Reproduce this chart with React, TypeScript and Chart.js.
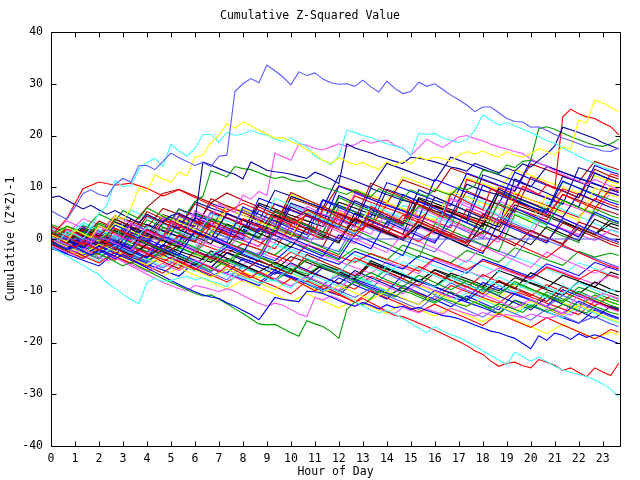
import React, { useEffect, useRef } from "react";
import { Chart, registerables } from "chart.js";

Chart.register(...registerables);

const TITLE = "Cumulative Z-Squared Value";
const X_LABEL = "Hour of Day";
const Y_LABEL = "Cumulative (Z*Z)-1";
const HOUR_TICKS = [0, 1, 2, 3, 4, 5, 6, 7, 8, 9, 10, 11, 12, 13, 14, 15, 16, 17, 18, 19, 20, 21, 22, 23];
const Y_TICKS = [-40, -30, -20, -10, 0, 10, 20, 30, 40];
const X_MIN = 0;
const X_MAX = 23.72;
const Y_MIN = -40;
const Y_MAX = 40;

// sample times (hours): 20-minute grid for traced series, 40-minute grid for the dense band
const FINE_HOURS = Array.from({ length: 72 }, (_, i) => i / 3);
const COARSE_HOURS = [...Array.from({ length: 36 }, (_, i) => (i * 2) / 3), 71 / 3];
const ZERO_HOURS = [0, 23.72];
const ZERO_LINE = [0, 0];

// ---- traced outer series (20-minute samples) ----
const T_LB = [5.5, 4.6, 3.8, 6.2, 8.8, 9.5, 8.6, 8.2, 10.5, 11.7, 11.0, 14.2, 14.2, 13.4, 15.0, 16.6, 15.7, 15.0, 14.2, 14.8, 14.0, 16.0, 16.2, 28.5, 30.0, 31.0, 30.2, 33.6, 32.5, 31.3, 29.8, 32.3, 31.6, 32.1, 30.9, 30.2, 29.9, 30.0, 29.5, 30.7, 29.4, 28.4, 30.5, 29.1, 28.1, 28.5, 30.3, 29.5, 30.0, 28.9, 27.8, 26.9, 25.9, 24.6, 25.5, 25.5, 24.4, 23.3, 22.7, 22.6, 21.6, 21.7, 21.0, 20.2, 19.5, 19.0, 18.4, 17.8, 17.6, 17.0, 16.9, 17.6];
const T_YE = [0.8, 0.2, -0.5, 1.8, 1.0, 0.3, 2.6, 1.9, 4.5, 3.8, 6.0, 9.9, 9.2, 12.4, 11.6, 11.0, 12.9, 12.2, 15.8, 16.2, 18.6, 20.0, 22.3, 21.4, 22.6, 21.9, 21.0, 20.3, 19.5, 19.6, 18.8, 18.2, 17.2, 16.5, 15.2, 14.6, 15.7, 15.0, 14.3, 14.8, 14.0, 13.5, 14.9, 14.2, 15.1, 14.5, 15.9, 15.3, 15.8, 15.6, 15.0, 16.2, 16.9, 16.4, 17.0, 16.3, 15.8, 16.9, 16.2, 15.8, 16.4, 17.5, 16.9, 16.2, 17.8, 17.4, 23.0, 22.4, 26.8, 26.3, 25.5, 24.6];
const T_CY = [0.5, -0.3, 1.5, 0.8, 0.0, 2.2, 5.0, 6.5, 11.3, 10.1, 10.3, 13.5, 14.8, 15.6, 14.0, 18.3, 17.0, 16.0, 17.5, 20.2, 20.2, 18.7, 20.6, 20.0, 20.3, 21.0, 20.4, 20.1, 19.3, 18.8, 19.5, 18.6, 17.8, 16.0, 15.2, 14.4, 16.0, 21.0, 20.6, 20.0, 19.6, 19.0, 18.4, 18.0, 17.5, 16.2, 20.4, 20.2, 20.4, 19.5, 19.1, 18.6, 19.2, 21.0, 24.0, 23.0, 22.0, 22.5, 21.9, 21.2, 20.6, 19.8, 19.0, 18.5, 17.6, 16.8, 16.0, 15.2, 14.6, 13.8, 13.4, 13.0];
const T_NV = [8.0, 8.3, 7.5, 6.6, 5.8, 6.5, 5.6, 4.8, 5.5, 4.7, 3.9, 3.1, 4.8, 4.0, 3.3, 4.5, 5.0, 4.2, 3.5, 14.9, 14.3, 13.6, 13.0, 12.5, 11.6, 14.9, 14.1, 13.3, 13.0, 12.8, 12.5, 12.1, 11.7, 12.9, 12.3, 11.6, 10.7, 18.4, 17.6, 17.1, 16.6, 16.0, 15.5, 15.0, 14.6, 15.8, 15.6, 15.3, 14.9, 14.4, 13.9, 13.6, 13.1, 14.6, 14.0, 13.4, 12.8, 13.7, 13.1, 14.5, 13.9, 15.2, 16.4, 18.0, 21.6, 21.1, 20.6, 20.0, 19.4, 18.6, 18.0, 17.4];
const T_GR = [1.5, 0.7, 2.5, 1.8, 1.0, 3.2, 4.8, 4.1, 3.3, 5.5, 4.7, 3.9, 6.0, 5.2, 4.4, 3.7, 5.8, 5.0, 7.2, 8.3, 13.2, 12.6, 12.0, 14.0, 13.6, 13.4, 12.8, 12.2, 11.7, 12.0, 11.4, 11.1, 11.3, 10.6, 10.0, 9.6, 9.1, 8.6, 9.5, 8.8, 8.2, 9.7, 9.0, 8.4, 7.8, 9.5, 8.8, 8.2, 9.6, 9.0, 8.5, 10.0, 9.5, 10.3, 13.3, 13.0, 12.6, 14.3, 13.8, 15.0, 15.2, 21.3, 21.7, 21.2, 20.5, 19.8, 19.2, 18.6, 18.1, 17.9, 18.4, 19.3];
const T_RD_UP = [-0.8, 1.2, 0.4, -0.4, -1.2, 0.9, 0.1, -0.7, 2.1, 1.3, 0.5, -0.3, 1.8, 1.0, 0.2, 3.5, 2.7, 1.9, 1.1, 0.3, 2.6, 1.8, 1.0, 0.2, 3.9, 3.1, 2.3, 1.5, 0.7, 4.4, 3.6, 2.8, 2.0, 1.2, 5.8, 5.0, 4.2, 3.4, 2.6, 1.8, 6.3, 5.5, 4.7, 3.9, 3.1, 7.4, 6.6, 5.8, 5.0, 4.2, 8.8, 8.0, 7.2, 6.4, 5.6, 9.7, 8.9, 8.1, 7.3, 10.2, 9.4, 8.6, 10.5, 9.7, 23.6, 25.1, 24.2, 23.6, 23.3, 22.4, 21.7, 20.1];
const T_MG_UP = [0.3, -0.5, 1.8, 1.0, 0.2, -0.6, 2.5, 1.7, 0.9, 0.1, 3.0, 2.2, 1.4, 0.6, 4.2, 3.4, 2.6, 1.8, 5.5, 4.7, 3.9, 6.8, 6.0, 5.2, 8.5, 7.7, 9.2, 8.4, 16.6, 15.9, 15.2, 18.4, 18.1, 17.5, 17.2, 17.8, 18.4, 17.9, 18.2, 19.1, 18.5, 18.9, 19.1, 18.1, 17.6, 16.2, 17.7, 19.3, 18.4, 17.7, 18.7, 19.7, 20.0, 19.4, 19.0, 18.3, 17.8, 17.4, 16.9, 16.5, 15.5, 14.7, 14.0, 13.2, 12.5, 11.8, 11.2, 10.5, 11.5, 10.8, 10.2, 9.6];
const T_CY_LOW = [-1.5, -2.4, -3.3, -4.2, -5.1, -6.0, -6.9, -8.5, -9.5, -10.7, -11.7, -12.5, -8.4, -7.6, -8.2, -8.0, -7.6, -7.2, -7.9, -7.5, -8.1, -8.6, -9.2, -7.0, -7.6, -7.8, -8.5, -8.2, -7.9, -8.9, -9.5, -7.8, -8.5, -9.3, -10.0, -9.5, -10.3, -11.0, -12.0, -13.0, -13.7, -14.3, -13.8, -14.5, -15.3, -16.3, -17.2, -18.1, -16.9, -17.8, -18.5, -19.0, -19.8, -20.7, -21.6, -22.5, -23.4, -24.3, -21.9, -22.7, -23.6, -22.8, -23.7, -24.6, -25.3, -25.8, -26.2, -26.6, -27.2, -28.0, -29.0, -30.5];
const T_RD_LOW = [0.8, 0.0, -0.8, -1.6, -0.5, -1.3, -2.2, -1.0, -1.8, -2.6, -3.4, -2.0, -2.8, -3.6, -4.4, -3.5, -4.3, -5.1, -5.9, -4.8, -5.6, -6.4, -5.2, -6.0, -6.8, -7.5, -6.3, -7.1, -7.9, -8.7, -7.6, -8.4, -9.2, -10.0, -9.0, -9.8, -10.6, -11.4, -12.2, -11.5, -12.3, -13.1, -14.0, -14.8, -15.0, -15.6, -16.3, -16.9, -17.6, -18.3, -19.1, -19.8, -20.6, -21.6, -22.3, -23.6, -24.6, -24.0, -23.8, -24.5, -24.9, -23.3, -23.8, -24.4, -25.4, -24.9, -25.8, -26.6, -24.9, -25.7, -26.4, -24.0];
const T_BL_LOW = [-0.3, -1.2, -2.0, -1.5, -2.3, -3.1, -2.2, -3.0, -3.8, -3.0, -3.8, -4.7, -5.6, -6.4, -7.2, -8.0, -8.8, -9.5, -10.2, -10.8, -11.2, -11.5, -12.3, -13.0, -13.8, -14.6, -15.6, -13.5, -11.3, -11.7, -11.9, -12.1, -10.1, -10.2, -10.5, -11.2, -11.9, -12.5, -13.0, -12.3, -12.8, -13.5, -12.7, -13.3, -13.0, -13.6, -13.2, -13.8, -14.3, -14.8, -15.0, -15.4, -16.0, -16.6, -17.2, -17.8, -18.1, -18.7, -19.2, -20.2, -21.2, -18.7, -19.6, -18.2, -18.6, -19.4, -18.3, -19.0, -18.5, -19.0, -19.6, -20.2];
const T_GR_LOW = [-0.5, -1.3, -2.1, -1.5, -2.3, -3.1, -2.8, -3.6, -4.4, -5.2, -4.5, -5.3, -6.1, -6.9, -7.7, -8.4, -9.1, -9.8, -10.5, -11.0, -10.8, -11.6, -12.5, -13.5, -14.4, -15.4, -16.4, -16.6, -16.5, -17.3, -18.1, -18.8, -15.8, -16.4, -16.9, -17.9, -19.2, -13.6, -12.2, -12.8, -11.5, -10.0, -10.6, -11.2, -10.0, -10.5, -11.2, -11.8, -12.4, -11.5, -12.0, -12.6, -13.0, -12.2, -12.8, -13.4, -12.5, -13.0, -13.6, -14.2, -12.8, -13.4, -14.0, -13.5, -12.6, -13.2, -13.8, -14.3, -13.0, -13.6, -14.2, -14.6];
const T_MG_LOW = [-0.2, -1.0, -1.8, -2.6, -1.9, -2.7, -3.5, -4.3, -3.6, -4.4, -5.2, -6.0, -6.8, -7.6, -8.4, -9.0, -9.6, -10.0, -9.0, -9.3, -9.7, -10.2, -9.6, -10.1, -10.9, -11.7, -12.4, -13.0, -12.4, -12.8, -13.6, -14.5, -15.0, -11.3, -11.8, -11.0, -11.6, -12.3, -13.0, -12.2, -12.9, -13.5, -14.0, -14.4, -13.2, -13.8, -14.3, -13.5, -14.0, -14.5, -13.4, -13.9, -14.4, -14.9, -14.2, -14.7, -15.0, -14.6, -14.9, -15.2, -14.5, -14.9, -15.3, -15.0, -14.2, -14.7, -13.8, -10.8, -11.4, -10.5, -11.0, -11.8];

// ---- dense band series (40-minute samples, last at 23:40) ----
const M01 = [0.5, 4.0, 9.7, 11.0, 10.4, 10.8, 9.8, 8.3, 9.5, 8.0, 6.6, 5.2, 6.9, 5.6, 4.2, 2.8, 4.6, 3.2, 1.8, 0.5, 3.7, 2.2, 0.9, -0.5, 1.8, 0.4, -1.0, -2.4, 0.6, -0.8, -2.2, -3.6, -1.2, -2.6, -4.0, -5.3, -5.8];
const M02 = [1.0, -0.3, 1.8, 0.4, 3.9, 2.5, 6.1, 8.8, 9.6, 8.3, 7.0, 8.9, 7.5, 6.2, 4.8, 3.5, 5.6, 4.2, 2.8, 1.5, 2.9, 1.6, 0.2, 3.4, 2.0, 0.7, -0.7, 1.5, 0.1, -1.3, 1.7, 0.3, -1.1, 2.2, 0.8, -0.5, -1.0];
const M03 = [-0.5, -1.8, -0.6, -2.0, -3.3, 0.8, -0.5, -1.9, -3.2, 1.5, 0.1, -1.2, -2.6, 2.1, 0.7, -0.6, -2.0, -3.3, 0.8, -0.6, -1.9, 3.4, 2.0, 0.6, -0.8, 4.5, 3.1, 1.7, 0.3, 6.0, 4.6, 3.2, 1.8, 0.4, 5.2, 3.8, 3.2];
const M04 = [0.8, 2.5, 1.2, -0.2, 1.9, 0.5, -0.9, -2.2, -0.3, -1.7, -3.0, -4.4, -2.1, -3.5, -4.9, -6.2, -4.0, -5.4, -6.8, -8.1, -6.5, -7.9, -9.2, -7.0, -8.4, -9.8, -8.1, -9.5, -10.9, -8.2, -9.6, -11.0, -12.3, -10.1, -11.5, -12.8, -13.3];
const M05 = [0.3, -1.0, -2.3, 0.5, -0.8, -2.2, 1.6, 0.3, -1.1, -2.4, 0.4, -0.9, -2.3, -3.6, 1.2, -0.1, -1.5, 2.8, 1.4, 0.1, -1.3, -2.6, 0.9, -0.5, -1.8, -3.2, -4.5, -1.4, -2.8, -4.1, -5.5, -2.5, -3.9, -5.2, -6.6, -5.1, -5.6];
const M06 = [2.0, 0.7, 3.2, 1.8, 0.5, -0.9, 2.4, 1.0, -0.3, -1.7, -3.0, -1.2, -2.6, -3.9, -1.0, -2.4, -3.7, -5.1, -6.4, -4.0, -5.4, -6.7, -4.4, -5.8, -7.1, -8.5, -6.2, -7.6, -8.9, -10.3, -7.9, -9.3, -10.6, -8.4, -9.8, -11.1, -11.6];
const M07 = [-0.2, -1.5, -2.9, -1.0, -2.3, -3.7, -5.0, -3.3, -4.7, -6.0, -7.4, -5.8, -7.1, -8.5, -9.8, -7.7, -9.1, -10.4, -9.0, -10.4, -11.7, -10.0, -11.4, -12.7, -10.3, -11.7, -13.0, -11.5, -12.9, -14.2, -12.0, -13.4, -14.7, -12.8, -14.1, -15.5, -16.0];
const M08 = [0.5, -0.8, 2.0, 0.6, 3.8, 2.4, 1.1, -0.3, -1.6, 1.3, -0.1, -1.4, 2.5, 1.1, -0.2, -1.6, 2.2, 0.8, -0.5, 3.9, 2.5, 1.2, -0.2, 2.7, 1.3, 0.0, -1.4, 3.0, 1.6, 0.3, -1.1, 2.4, 1.0, -0.3, 3.8, 2.4, 1.9];
const M09 = [-1.0, -2.3, -3.7, -2.0, -3.4, -4.7, -3.0, -4.4, -5.7, -2.2, -3.6, -4.9, -6.3, -4.1, -5.5, -6.8, -3.0, -4.4, -5.7, -7.1, -5.0, -6.4, -7.7, -9.1, -6.5, -7.9, -9.2, -10.6, -8.0, -9.4, -10.7, -12.1, -9.2, -10.6, -11.9, -13.3, -13.8];
const M10 = [1.5, 0.2, -1.1, 1.7, 0.3, 3.1, 1.7, 0.4, 4.4, 3.0, 1.7, 0.3, 5.6, 4.2, 2.9, 1.5, 0.2, 3.6, 2.2, 0.9, 5.1, 3.7, 2.4, 1.0, -0.4, 2.8, 1.4, 0.1, 4.3, 2.9, 1.6, 0.2, -1.1, 2.6, 1.2, -0.1, -0.6];
const M11 = [-0.8, -2.1, 0.5, -0.8, -2.2, 1.9, 0.5, 4.2, 2.8, 1.5, 0.1, 5.0, 3.6, 2.3, 0.9, 6.2, 4.8, 3.5, 2.1, 7.4, 6.0, 4.7, 3.3, 2.0, 8.1, 6.7, 5.4, 4.0, 9.6, 8.2, 6.9, 5.5, 4.2, 8.8, 7.4, 6.1, 5.6];
const M12 = [0.2, 1.8, 0.4, -0.9, 2.0, 0.6, -0.7, -2.1, 0.8, -0.6, 3.5, 2.1, 0.8, -0.6, -1.9, 2.6, 1.2, -0.1, 5.1, 3.7, 2.4, 1.0, 4.6, 3.2, 1.9, 0.5, 5.8, 4.4, 3.1, 7.2, 5.8, 4.5, 8.6, 7.2, 5.9, 9.8, 9.3];
const M13 = [-0.3, 1.3, 0.0, 2.8, 1.4, 0.1, 3.7, 2.3, 1.0, -0.4, 4.1, 2.7, 1.4, 0.0, 5.3, 3.9, 2.6, 1.2, 8.0, 6.6, 5.3, 3.9, 2.6, 6.4, 5.0, 3.7, 2.3, 1.0, 6.9, 5.5, 4.2, 2.8, 7.5, 6.1, 4.8, 3.4, 2.9];
const M14 = [1.2, -0.1, -1.5, -2.8, -1.0, -2.4, -3.7, 0.5, -0.9, -2.2, -3.6, -1.5, -2.9, -4.2, 1.6, 0.2, -1.1, -2.5, -3.8, 0.9, -0.5, -1.8, -3.2, 2.6, 1.2, -0.1, -1.5, -2.8, 3.3, 1.9, 0.6, -0.8, 4.0, 2.6, 1.3, -0.1, -0.6];
const M15 = [-1.2, -2.5, -3.9, -2.2, -3.6, -4.9, -6.3, -4.7, -6.1, -4.0, -5.4, -6.7, -8.1, -6.4, -7.8, -9.1, -7.2, -8.6, -9.9, -6.5, -7.9, -9.2, -10.6, -8.6, -10.0, -11.3, -9.3, -10.7, -12.0, -13.4, -11.6, -13.0, -14.3, -10.8, -12.2, -13.5, -14.0];
const M16 = [0.6, -0.7, -2.1, -3.4, -1.2, -2.6, -3.9, -5.3, -3.0, -4.4, -5.7, -7.1, -5.5, -6.9, -8.2, -5.1, -6.5, -7.8, -9.2, -7.0, -8.4, -5.2, -6.6, -7.9, -9.3, -7.4, -8.8, -10.1, -7.3, -8.7, -10.0, -11.4, -9.0, -10.4, -11.7, -9.8, -10.3];
const M17 = [0.4, 2.3, 1.0, -0.4, 3.0, 1.6, 0.3, 4.6, 3.2, 1.9, 0.5, 6.0, 4.6, 3.3, 1.9, 0.6, 5.5, 4.1, 2.8, 1.4, 6.2, 4.8, 3.5, 2.1, 8.1, 6.7, 5.4, 4.0, 2.7, 9.0, 7.6, 6.3, 4.9, 3.6, 9.9, 8.5, 8.0];
const M18 = [-0.5, -1.8, 0.9, -0.4, -1.8, -3.1, -1.0, -2.4, -3.7, -5.1, -2.3, -3.7, -5.0, -6.4, -4.5, -5.9, -7.2, -5.0, -6.4, -7.7, -4.2, -5.6, -6.9, -8.3, -6.0, -7.4, -8.7, -10.1, -8.2, -9.6, -6.5, -7.9, -9.2, -10.6, -8.3, -9.7, -10.2];
const M19 = [2.5, 1.2, -0.2, 2.6, 1.2, -0.1, 4.5, 3.1, 1.8, 6.8, 5.4, 4.1, 2.7, 1.4, 5.5, 4.1, 2.8, 1.4, 0.1, 4.0, 2.6, 1.3, -0.1, 3.8, 2.4, 1.1, -0.3, 4.9, 3.5, 2.2, 0.8, -0.5, 3.1, 1.7, 0.4, -1.0, -1.5];
const M20 = [0.1, -1.2, -2.6, -3.9, -1.5, -2.9, -4.2, -5.6, -3.8, -5.2, -6.5, -7.9, -5.0, -6.4, -7.7, -9.1, -7.2, -8.6, -9.9, -11.3, -9.5, -10.9, -12.2, -13.6, -11.0, -12.4, -13.7, -15.1, -13.0, -14.4, -15.7, -13.5, -14.9, -16.2, -15.0, -16.4, -16.9];
const M21 = [0.9, -0.4, -1.8, 0.6, -0.8, -2.1, -3.5, -1.4, -2.8, -4.1, -5.5, -2.7, -4.1, -5.4, -6.8, -4.6, -6.0, -7.3, -8.7, -6.1, -7.5, -8.8, -10.2, -7.8, -9.2, -10.5, -11.9, -9.6, -11.0, -12.3, -13.7, -11.2, -12.6, -13.9, -15.3, -13.0, -13.5];
const M22 = [-0.6, -1.9, -3.3, -4.6, -2.5, -3.9, -5.2, -6.6, -4.2, -5.6, -6.9, -8.3, -6.5, -7.9, -9.2, -10.6, -8.1, -9.5, -10.8, -12.2, -10.0, -11.4, -12.7, -14.1, -12.6, -14.0, -15.3, -16.7, -14.4, -15.8, -17.1, -15.2, -16.6, -17.9, -19.3, -17.5, -18.0];
const M23 = [0.3, -1.0, -2.4, -3.7, -1.6, -3.0, -4.3, -2.0, -3.4, -4.7, -6.1, -4.0, -5.4, -6.7, -8.1, -6.0, -7.4, -8.7, -10.1, -8.3, -9.7, -11.0, -9.4, -10.8, -12.1, -10.2, -11.6, -12.9, -14.3, -11.9, -13.3, -10.2, -11.6, -12.9, -10.8, -12.2, -12.7];
const M24 = [-1.5, -2.8, 0.3, -1.0, 2.7, 1.3, 0.0, -1.4, 3.4, 2.0, 0.7, -0.7, 6.2, 4.8, 3.5, 2.1, 0.8, 7.5, 6.1, 4.8, 3.4, 2.1, 8.6, 7.2, 5.9, 4.5, 3.2, 10.4, 9.0, 7.7, 6.3, 5.0, 11.2, 9.8, 8.5, 7.1, 6.6];
const M25 = [1.0, 3.5, 2.1, 0.8, 4.4, 3.0, 1.7, 0.3, 5.7, 4.3, 3.0, 1.6, 0.3, 4.2, 2.8, 1.5, 6.3, 4.9, 3.6, 2.2, 0.9, 5.0, 3.6, 2.3, 0.9, 7.7, 6.3, 5.0, 3.6, 2.3, 0.9, 5.4, 4.0, 2.7, 1.3, 0.0, -0.5];
const M26 = [1.5, 0.2, 2.8, 1.4, 0.1, 5.6, 4.2, 2.9, 1.5, 0.2, 4.9, 3.5, 2.2, 0.8, 7.9, 6.5, 5.2, 3.8, 2.5, 1.1, 6.7, 5.3, 4.0, 2.6, 1.3, 8.8, 7.4, 6.1, 4.7, 3.4, 2.0, 7.1, 5.7, 4.4, 3.0, 1.7, 1.2];
const M27 = [-0.8, -2.1, -3.5, -1.8, -3.2, -4.5, -5.9, -7.2, -5.6, -7.0, -8.3, -9.7, -8.0, -9.4, -10.7, -12.1, -10.6, -12.0, -13.3, -11.7, -13.1, -14.4, -12.2, -13.6, -14.9, -13.3, -14.7, -16.0, -14.2, -15.6, -16.9, -18.3, -16.5, -17.9, -19.2, -18.0, -18.5];
const M28 = [0.0, 1.4, 0.1, -1.3, 1.6, 0.2, -1.1, 3.2, 1.8, 0.5, -0.9, 2.9, 1.5, 0.2, 4.6, 3.2, 1.9, 0.5, -0.8, 5.0, 3.6, 2.3, 0.9, 7.8, 6.4, 5.1, 3.7, 2.4, 8.9, 7.5, 6.2, 4.8, 3.5, 2.1, 0.8, 3.0, 2.5];
const M29 = [-0.2, 1.6, 0.2, 3.5, 2.1, 0.8, 5.3, 3.9, 2.6, 1.2, 7.8, 6.4, 5.1, 3.7, 2.4, 9.0, 7.6, 6.3, 4.9, 3.6, 10.8, 9.4, 8.1, 6.7, 5.4, 4.0, 9.3, 7.9, 6.6, 5.2, 12.0, 10.6, 9.3, 7.9, 13.5, 12.1, 11.6];
const M30 = [0.7, -0.6, -2.0, -0.4, -1.8, -3.1, -4.5, -2.3, -3.7, -5.0, -6.4, -3.8, -5.2, -6.5, -7.9, -6.0, -7.4, -8.7, -7.0, -8.4, -9.7, -6.7, -8.1, -9.4, -10.8, -8.5, -9.9, -11.2, -9.0, -10.4, -11.7, -13.1, -10.9, -12.3, -13.6, -15.0, -15.5];
const M31 = [0.4, -0.9, 2.3, 0.9, -0.4, -1.8, 1.9, 0.5, -0.8, 4.1, 2.7, 1.4, 0.0, 6.6, 5.2, 3.9, 2.5, 1.2, 8.4, 7.0, 5.7, 4.3, 3.0, 9.5, 8.1, 6.8, 5.4, 4.1, 2.7, 11.6, 10.2, 8.9, 7.5, 6.2, 12.8, 11.4, 10.9];
const M32 = [1.8, 0.5, -0.9, -2.2, 0.9, -0.5, -1.8, -3.2, -1.0, -2.4, -3.7, -0.8, -2.2, -3.5, -4.9, -2.5, -3.9, -5.2, -6.6, -3.6, -5.0, -6.3, -7.7, -5.3, -6.7, -8.0, -9.4, -6.9, -8.3, -9.6, -11.0, -8.8, -10.2, -11.5, -12.9, -11.0, -11.5];
const M33 = [0.1, -1.2, 1.9, 0.5, -0.8, -2.2, 1.2, -0.2, -1.5, -2.9, 0.7, -0.7, -2.0, -3.4, 2.4, 1.0, -0.3, -1.7, -3.0, 1.8, 0.4, -0.9, -2.3, -3.6, 3.0, 1.6, 0.3, -1.1, -2.4, 4.7, 3.3, 2.0, 0.6, -0.7, 5.9, 4.5, 4.0];
const M34 = [-0.4, -1.7, -3.1, -1.4, -2.8, -4.1, -5.5, -3.1, -4.5, -5.8, -7.2, -5.8, -7.2, -8.5, -6.0, -7.4, -8.7, -10.1, -7.5, -8.9, -10.2, -11.6, -9.0, -10.4, -11.7, -13.1, -11.0, -12.4, -13.7, -10.5, -11.9, -13.2, -14.6, -12.0, -13.4, -14.7, -15.2];
const M35 = [0.8, -0.5, -1.9, 1.0, -0.4, -1.7, -3.1, 0.8, -0.6, -1.9, 2.6, 1.2, -0.1, -1.5, 4.0, 2.6, 1.3, -0.1, 5.6, 4.2, 2.9, 1.5, 0.2, 6.1, 4.7, 3.4, 2.0, 0.7, 7.4, 6.0, 4.7, 3.3, 2.0, 0.6, 4.8, 3.4, 2.9];
const M36 = [-0.3, -1.6, -3.0, -4.3, -2.5, -3.9, -5.2, -6.6, -4.8, -6.2, -2.9, -4.3, -5.6, -7.0, -5.1, -6.5, -7.8, -9.2, -6.0, -7.4, -8.7, -10.1, -8.0, -9.4, -10.7, -12.1, -10.4, -11.8, -13.1, -14.5, -12.6, -14.0, -15.3, -13.0, -14.4, -15.7, -16.2];
const N01 = [0.3, -1.0, 1.5, 0.2, -1.1, 2.9, 1.6, 0.4, 5.8, 4.6, 3.5, 2.2, 1.0, 7.9, 6.7, 5.5, 4.4, 3.1, 10.2, 9.0, 7.7, 6.5, 5.4, 4.1, 11.5, 10.3, 9.0, 7.8, 6.7, 12.9, 11.6, 10.4, 9.3, 8.0, 14.2, 13.0, 12.5];
const N02 = [1.2, 0.3, -0.8, 2.4, 1.5, 0.4, -0.5, 3.0, 2.1, 7.2, 6.0, 4.9, 3.7, 2.8, 1.6, 6.9, 5.8, 4.6, 3.7, 2.5, 9.8, 8.6, 7.5, 6.6, 5.4, 4.5, 10.6, 9.4, 8.5, 7.3, 6.2, 5.3, 12.1, 11.0, 9.8, 8.9, 8.4];
const N03 = [-0.4, 1.9, 0.8, -0.3, -1.5, 1.2, 0.1, 3.6, 2.4, 1.3, 0.2, 4.8, 3.6, 2.5, 1.4, 0.2, 5.1, 4.0, 2.8, 8.3, 7.1, 6.0, 4.9, 3.7, 6.5, 5.4, 4.2, 3.1, 9.9, 8.7, 7.6, 6.5, 5.3, 4.2, 7.8, 6.6, 6.1];
const N04 = [0.6, -0.5, 2.2, 1.0, 4.5, 3.4, 2.2, 5.9, 4.8, 3.6, 2.5, 1.4, 3.9, 2.7, 6.8, 5.7, 4.5, 3.4, 2.3, 1.1, 5.2, 4.1, 2.9, 7.4, 6.3, 5.1, 4.0, 2.9, 1.7, 6.0, 4.9, 3.7, 8.6, 7.5, 6.3, 5.2, 4.7];
const N05 = [-0.9, -2.0, -3.1, -1.2, -2.4, -3.5, -4.6, -2.0, -3.2, -4.3, -5.4, -6.6, -3.8, -4.9, -6.1, -7.2, -8.3, -5.5, -6.7, -7.8, -8.9, -10.1, -7.0, -8.2, -9.3, -10.4, -11.6, -8.4, -9.6, -10.7, -11.8, -13.0, -9.8, -11.0, -12.1, -13.2, -13.8];
const N06 = [2.8, 1.7, 0.5, 3.1, 2.0, 0.8, -0.3, 2.2, 1.1, 4.9, 3.8, 2.6, 1.5, 0.4, 3.6, 2.5, 1.3, 0.2, 6.3, 5.2, 4.0, 2.9, 7.7, 6.6, 5.4, 4.3, 3.2, 2.0, 9.1, 8.0, 6.8, 5.7, 11.0, 9.9, 8.7, 7.6, 7.1];
const N07 = [-0.6, 1.4, 0.3, -0.8, 2.7, 1.6, 0.4, -0.7, 3.9, 2.8, 1.6, 6.4, 5.3, 4.1, 3.0, 8.6, 7.5, 6.3, 5.2, 4.1, 2.9, 7.0, 5.9, 4.7, 3.6, 9.2, 8.1, 6.9, 5.8, 4.7, 3.5, 8.4, 7.3, 6.1, 5.0, 10.5, 10.0];
const N08 = [1.6, 0.5, -0.6, -1.8, 0.9, -0.2, -1.4, 2.3, 1.2, 0.0, -1.1, -2.2, 1.5, 0.4, -0.8, 3.6, 2.5, 1.3, 0.2, -0.9, 4.0, 2.9, 1.7, 0.6, -0.6, 2.8, 1.7, 0.5, -0.6, 5.4, 4.3, 3.1, 2.0, 0.9, -0.3, 1.8, 1.3];
const N09 = [-0.3, -1.4, 0.8, -0.3, -1.5, -2.6, -3.7, -1.1, -2.3, -3.4, -4.5, -2.0, -3.2, -4.3, -5.4, -6.6, -3.9, -5.0, -6.2, -7.3, -4.6, -5.8, -6.9, -8.0, -9.2, -6.6, -7.7, -8.9, -10.0, -7.5, -8.6, -9.8, -10.9, -8.2, -9.3, -10.5, -11.0];
const N10 = [-0.2, -1.3, -2.4, 0.4, -0.7, -1.9, 2.8, 1.7, 0.5, -0.6, 5.1, 4.0, 2.8, 1.7, 0.6, 8.2, 7.1, 5.9, 4.8, 3.7, 2.5, 9.6, 8.5, 7.3, 6.2, 5.1, 3.9, 12.4, 11.3, 10.1, 9.0, 7.9, 6.7, 13.8, 12.7, 11.5, 11.0];
const N11 = [0.4, -0.7, -1.9, -3.0, -4.1, -1.6, -2.7, -3.9, -5.0, -6.1, -3.3, -4.5, -5.6, -6.7, -7.9, -5.1, -6.3, -7.4, -8.5, -9.7, -7.2, -8.3, -9.5, -10.6, -11.7, -9.0, -10.2, -11.3, -12.4, -10.1, -11.2, -12.4, -13.5, -14.6, -12.0, -13.1, -13.6];
const N12 = [-1.1, 0.9, -0.2, -1.4, -2.5, 0.3, -0.8, -2.0, -3.1, 1.4, 0.3, -0.9, -2.0, -3.1, 2.0, 0.9, -0.3, -1.4, -2.5, 3.2, 2.1, 0.9, -0.2, -1.3, -2.5, 1.1, -0.1, -1.2, -2.3, -3.5, 0.8, -0.3, -1.5, -2.6, -3.7, -4.9, -5.4];
const N13 = [0.2, -0.9, -2.1, 0.6, -0.5, -1.7, 1.9, 0.8, -0.4, -1.5, 2.2, 1.1, -0.1, 3.7, 2.6, 1.4, 0.3, 5.4, 4.3, 3.1, 2.0, 0.9, 6.5, 5.4, 4.2, 3.1, 8.3, 7.2, 6.0, 4.9, 3.8, 2.6, 7.3, 6.2, 5.0, 3.9, 3.4];
const N14 = [-1.8, -2.9, -4.1, -5.2, -2.6, -3.8, -4.9, -6.0, -7.2, -4.4, -5.6, -6.7, -7.8, -9.0, -6.4, -7.5, -8.6, -9.8, -10.9, -8.1, -9.3, -10.4, -11.5, -12.7, -9.9, -11.1, -12.2, -13.3, -14.5, -11.8, -12.9, -14.1, -15.2, -16.3, -13.7, -14.9, -15.4];
const N15 = [0.9, -0.2, -1.3, -2.5, -0.1, -1.2, -2.4, -3.5, -1.7, -2.8, -4.0, -5.1, -2.3, -3.4, -4.6, -5.7, -6.8, -4.9, -6.0, -7.2, -8.3, -5.8, -6.9, -8.1, -9.2, -7.0, -8.1, -9.3, -10.4, -8.6, -9.7, -10.8, -12.0, -9.3, -10.4, -11.6, -12.1];
const N16 = [2.2, 1.1, 3.9, 2.8, 1.6, 0.5, 4.2, 3.1, 1.9, 0.8, 5.3, 4.2, 3.0, 1.9, 0.8, 6.6, 5.5, 4.3, 3.2, 8.8, 7.7, 6.5, 5.4, 4.3, 3.1, 7.9, 6.8, 5.6, 4.5, 10.3, 9.2, 8.0, 6.9, 5.8, 4.6, 9.0, 8.5];
const N17 = [-0.7, -1.8, 1.0, -0.1, -1.3, -2.4, 0.7, -0.4, -1.6, 3.1, 2.0, 0.8, -0.3, -1.4, 1.9, 0.8, -0.4, -1.5, 4.4, 3.3, 2.1, 1.0, -0.1, 2.7, 1.6, 0.4, -0.7, 4.8, 3.7, 2.5, 1.4, 0.3, -0.9, 3.3, 2.2, 1.0, 0.5];
const N18 = [1.0, -0.1, 2.6, 1.5, 0.3, 3.8, 2.7, 1.5, 0.4, 5.0, 3.9, 2.7, 1.6, 6.9, 5.8, 4.6, 3.5, 2.4, 7.1, 6.0, 4.8, 3.7, 2.6, 8.0, 6.9, 5.7, 4.6, 3.5, 2.3, 6.6, 5.5, 4.3, 3.2, 2.1, 0.9, 3.8, 3.3];
const N19 = [-0.5, -1.6, -2.8, -3.9, -1.4, -2.5, -3.7, -4.8, -5.9, -3.0, -4.1, -5.3, -6.4, -7.5, -5.6, -6.7, -7.9, -9.0, -6.4, -7.5, -8.7, -9.8, -7.9, -9.0, -10.2, -11.3, -9.2, -10.3, -11.5, -8.9, -10.0, -11.2, -12.3, -13.4, -11.1, -12.2, -12.7];
const N20 = [0.0, 2.4, 1.3, 0.1, -1.0, 1.8, 0.7, -0.5, 4.4, 3.3, 2.1, 1.0, -0.1, 3.5, 2.4, 1.2, 0.1, 5.8, 4.7, 3.5, 2.4, 6.7, 5.6, 4.4, 3.3, 2.2, 11.5, 10.4, 9.2, 8.1, 7.0, 5.8, 9.7, 8.6, 7.4, 12.6, 12.1];
const P01 = [0.5, -0.6, -1.8, 0.9, -0.2, -1.4, -2.5, 0.0, -1.1, -2.3, -3.4, -0.8, -1.9, -3.1, -4.2, -1.5, -2.6, -3.8, -4.9, -2.4, -3.5, -4.7, -5.8, -3.2, -4.3, -5.5, -6.6, -3.9, -5.0, -6.2, -7.3, -4.8, -5.9, -7.1, -4.5, -5.6, -6.1];
const P02 = [-0.4, 1.3, 0.2, -1.0, -2.1, -0.5, -1.6, -2.8, 0.6, -0.5, -1.7, -2.8, -0.9, -2.0, -3.2, -4.3, -1.1, -2.2, -3.4, -4.5, -2.8, -3.9, -5.1, -6.2, -3.6, -4.7, -5.9, -4.2, -5.3, -6.5, -7.6, -5.5, -6.6, -7.8, -6.0, -7.1, -7.6];
const P03 = [1.1, 0.0, -1.2, -2.3, 0.4, -0.7, -1.9, -3.0, -1.2, -2.3, 1.4, 0.3, -0.9, -2.0, -3.1, -0.6, -1.7, -2.9, -4.0, -1.8, -2.9, -4.1, -1.2, -2.3, -3.5, -4.6, -2.2, -3.3, -4.5, -1.7, -2.8, -4.0, -5.1, -2.4, -3.5, -2.7, -3.2];
const P04 = [-0.6, 1.8, 0.7, -0.5, 3.2, 2.1, 0.9, 4.7, 3.6, 2.4, 6.9, 5.8, 4.6, 3.5, 9.4, 8.3, 7.1, 6.0, 12.3, 11.2, 10.0, 14.6, 13.5, 12.3, 11.2, 15.8, 14.7, 13.5, 12.4, 11.3, 10.1, 14.0, 12.9, 11.7, 10.6, 9.5, 9.0];
const P05 = [0.7, -0.4, -1.6, 1.2, 0.1, 2.9, 1.8, 0.6, -0.5, 4.1, 3.0, 1.8, 0.7, 5.5, 4.4, 3.2, 2.1, 7.6, 6.5, 5.3, 4.2, 10.9, 9.8, 8.6, 7.5, 6.4, 12.7, 11.6, 10.4, 9.3, 15.2, 14.1, 12.9, 11.8, 10.7, 9.5, 9.0];
const P06 = [1.3, 0.2, 2.7, 1.6, 0.4, -0.7, 2.0, 0.9, 4.3, 3.2, 2.0, 0.9, 5.8, 4.7, 3.5, 8.1, 7.0, 5.8, 4.7, 9.6, 8.5, 7.3, 12.0, 10.9, 9.7, 8.6, 11.8, 10.7, 9.5, 13.4, 12.3, 11.1, 10.0, 8.9, 12.2, 11.1, 10.6];
const P07 = [-1.4, -2.5, -0.3, -1.4, -2.6, -3.7, -1.5, -2.6, -3.8, -4.9, -2.7, -3.8, -5.0, -2.6, -3.7, -4.9, -6.0, -3.2, -4.3, -5.5, -6.6, -4.4, -5.5, -6.7, -3.9, -5.0, -6.2, -7.3, -5.6, -6.7, -7.9, -5.3, -6.4, -7.6, -8.7, -6.9, -7.4];
const P08 = [0.9, -0.2, 1.6, 0.5, 3.3, 2.2, 1.0, -0.1, 4.6, 3.5, 2.3, 6.4, 5.3, 4.1, 3.0, 7.9, 6.8, 5.6, 10.3, 9.2, 8.0, 6.9, 11.4, 10.3, 9.1, 13.7, 12.6, 11.4, 10.3, 9.2, 14.5, 13.4, 12.2, 11.1, 15.0, 13.9, 13.4];
const P09 = [0.4, -0.7, -1.9, -3.0, -0.6, -1.7, -2.9, -4.0, -1.9, -3.0, -4.2, -1.5, -2.6, -3.8, -0.9, -2.0, -3.2, -4.3, -2.0, -3.1, -4.3, -5.4, -2.9, -4.0, -5.2, -6.3, -4.1, -5.2, -6.4, -3.5, -4.6, -5.8, -6.9, -4.6, -5.7, -6.9, -7.4];
const P10 = [-0.9, 0.8, -0.3, -1.5, -2.6, -3.7, -1.0, -2.1, -3.3, -4.4, -5.5, -2.6, -3.7, -4.9, -6.0, -3.4, -4.5, -5.7, -6.8, -7.9, -4.8, -5.9, -7.1, -8.2, -5.9, -7.0, -8.2, -9.3, -6.1, -7.2, -8.4, -9.5, -7.0, -8.1, -9.3, -6.4, -6.9];

// series list (values + their sample times)
const SERIES = [
  { values: ZERO_LINE, hours: ZERO_HOURS },
  { values: T_LB, hours: FINE_HOURS },
  { values: T_YE, hours: FINE_HOURS },
  { values: T_CY, hours: FINE_HOURS },
  { values: T_NV, hours: FINE_HOURS },
  { values: T_GR, hours: FINE_HOURS },
  { values: T_RD_UP, hours: FINE_HOURS },
  { values: T_MG_UP, hours: FINE_HOURS },
  { values: T_CY_LOW, hours: FINE_HOURS },
  { values: T_RD_LOW, hours: FINE_HOURS },
  { values: T_BL_LOW, hours: FINE_HOURS },
  { values: T_GR_LOW, hours: FINE_HOURS },
  { values: T_MG_LOW, hours: FINE_HOURS },
  ...[M01, M02, M03, M04, M05, M06, M07, M08, M09, M10, M11, M12, M13, M14, M15, M16, M17, M18,
      M19, M20, M21, M22, M23, M24, M25, M26, M27, M28, M29, M30, M31, M32, M33, M34, M35, M36,
      N01, N02, N03, N04, N05, N06, N07, N08, N09, N10, N11, N12, N13, N14, N15, N16, N17, N18, N19, N20,
      P01, P02, P03, P04, P05, P06, P07, P08, P09, P10]
    .map((values) => ({ values, hours: COARSE_HOURS })),
];

// styles (kept apart from the data)
const PALETTE: Record<string, string> = {
  red: "#ff0000",
  darkred: "#b00000",
  green: "#00a000",
  blue: "#0000ff",
  navy: "#0000a0",
  lightblue: "#5a5aff",
  magenta: "#ff50ff",
  cyan: "#40ffff",
  yellow: "#ffff00",
  black: "#000000",
};
const SERIES_COLORS = [
  "lightblue",
  "lightblue", "yellow", "cyan", "navy", "green", "red", "magenta",
  "cyan", "red", "blue", "green", "magenta",
  "red", "darkred", "blue", "green", "magenta", "cyan", "yellow", "black", "darkred", "lightblue",
  "navy", "red", "green", "blue", "magenta", "cyan", "yellow", "black", "darkred", "lightblue",
  "navy", "red", "green", "blue", "magenta", "cyan", "yellow", "black", "darkred", "lightblue",
  "navy", "red", "green", "blue", "magenta", "cyan",
  "blue", "navy", "red", "darkred", "blue", "green", "yellow", "magenta", "black", "navy",
  "red", "lightblue", "cyan", "blue", "green", "magenta", "darkred", "black", "yellow", "red",
  "blue", "red", "green", "navy", "blue", "yellow", "magenta", "darkred", "cyan", "black",
];

const FONT_FAMILY = "'DejaVu Sans Mono', 'Liberation Mono', monospace";
const FONT_SIZE = 11.5;

const framePlugin = {
  id: "gnuFrame",
  afterDatasetsDraw(chart: any) {
    const { ctx, chartArea, scales } = chart;
    const L = Math.round(chartArea.left) + 0.5;
    const R = Math.round(chartArea.right) + 0.5;
    const T = Math.round(chartArea.top) + 0.5;
    const B = Math.round(chartArea.bottom) + 0.5;
    ctx.save();
    ctx.strokeStyle = "#000000";
    ctx.lineWidth = 1;
    ctx.beginPath();
    ctx.rect(L, T, R - L, B - T);
    const len = 5;
    for (const v of Y_TICKS) {
      const y = Math.round(scales.y.getPixelForValue(v)) + 0.5;
      ctx.moveTo(L, y);
      ctx.lineTo(L + len, y);
      ctx.moveTo(R, y);
      ctx.lineTo(R - len, y);
    }
    for (const h of HOUR_TICKS) {
      const x = Math.round(scales.x.getPixelForValue(h)) + 0.5;
      ctx.moveTo(x, B);
      ctx.lineTo(x, B - len);
      ctx.moveTo(x, T);
      ctx.lineTo(x, T + len);
    }
    ctx.stroke();
    ctx.restore();
  },
};

export default function App() {
  const canvasRef = useRef<HTMLCanvasElement | null>(null);

  useEffect(() => {
    document.body.style.margin = "0";
    const canvas = canvasRef.current;
    if (!canvas) return;

    const datasets = SERIES.map((s, i) => ({
      label: "s" + i,
      data: s.values.map((v, j) => ({ x: s.hours[j], y: v })),
      borderColor: PALETTE[SERIES_COLORS[i]],
      backgroundColor: PALETTE[SERIES_COLORS[i]],
      borderWidth: 1.1,
      pointRadius: 0,
      pointHoverRadius: 0,
      tension: 0,
      fill: false,
    }));

    const font = { family: FONT_FAMILY, size: FONT_SIZE, weight: "normal" as const };

    const chart = new Chart(canvas, {
      type: "line",
      data: { datasets },
      plugins: [framePlugin],
      options: {
        animation: false,
        responsive: false,
        devicePixelRatio: 1,
        events: [],
        layout: { padding: { left: 0, right: 20, top: 0, bottom: 0 } },
        plugins: {
          legend: { display: false },
          tooltip: { enabled: false },
          title: {
            display: true,
            text: TITLE,
            color: "#000000",
            font,
            padding: { top: 9, bottom: 9.2 },
          },
        },
        scales: {
          x: {
            type: "linear",
            min: X_MIN,
            max: X_MAX,
            afterBuildTicks: (scale: any) => {
              scale.ticks = HOUR_TICKS.map((v) => ({ value: v }));
            },
            afterFit: (scale: any) => {
              scale.height = 34;
            },
            grid: { display: false, drawTicks: false },
            border: { display: false },
            ticks: {
              color: "#000000",
              font,
              padding: 6,
              maxRotation: 0,
              autoSkip: false,
              callback: (v: any) => String(v),
            },
            title: {
              display: true,
              text: X_LABEL,
              color: "#000000",
              font,
              padding: { top: 0, bottom: 1 },
            },
          },
          y: {
            type: "linear",
            min: Y_MIN,
            max: Y_MAX,
            afterBuildTicks: (scale: any) => {
              scale.ticks = Y_TICKS.map((v) => ({ value: v }));
            },
            afterFit: (scale: any) => {
              scale.width = 51;
            },
            grid: { display: false, drawTicks: false },
            border: { display: false },
            ticks: {
              color: "#000000",
              font,
              padding: 8,
              callback: (v: any) => String(v),
            },
            title: {
              display: true,
              text: Y_LABEL,
              color: "#000000",
              font,
              padding: { top: 4, bottom: 0 },
            },
          },
        },
      },
    });

    return () => chart.destroy();
  }, []);

  return (
    <div style={{ width: 640, height: 480, background: "#ffffff" }}>
      <canvas ref={canvasRef} width={640} height={480} style={{ display: "block" }} />
    </div>
  );
}
